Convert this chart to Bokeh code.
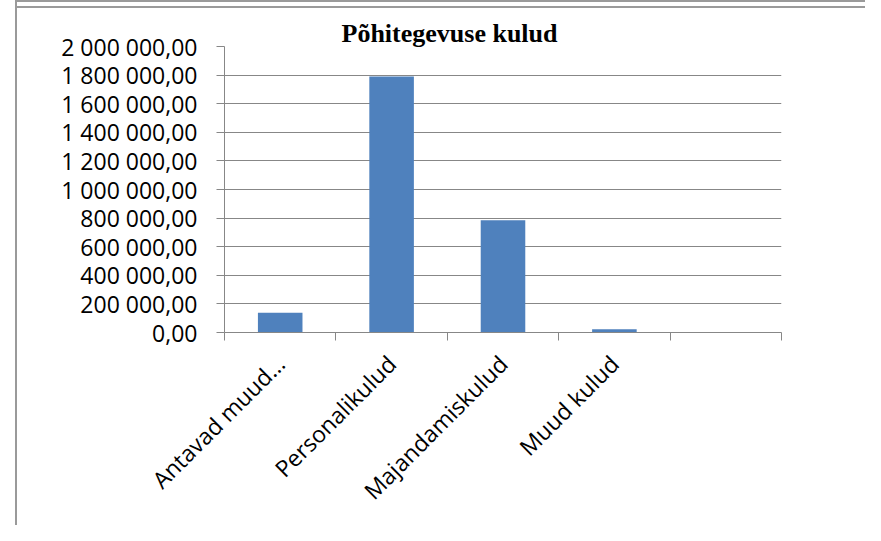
from bokeh.plotting import figure
from bokeh.models import Range1d, FixedTicker
from bokeh.embed import file_html
from bokeh.resources import INLINE
import math

# ---- data ----
categories = ["Antavad muud…", "Personalikulud", "Majandamiskulud", "Muud kulud", ""]
values = [138000, 1790000, 785000, 23000, 0]
y_ticks = [0, 200000, 400000, 600000, 800000, 1000000, 1200000,
           1400000, 1600000, 1800000, 2000000]
title_text = "Põhitegevuse kulud"


def fmt(v):
    return f"{v:,.2f}".replace(",", " ").replace(".", ",")


n = len(categories)
centers = [i + 0.5 for i in range(n)]
bounds = [float(i) for i in range(n + 1)]

GRID = "#878787"
FONT = "Open Sans"
FRAME = "#9a9a9a"

p = figure(width=865, height=525, x_range=Range1d(0, n), y_range=Range1d(0, y_ticks[-1]),
           output_backend="svg", toolbar_location=None,
           min_border_left=224, min_border_right=84, min_border_top=46, min_border_bottom=193)
p.background_fill_color = "white"
p.border_fill_color = None
p.outline_line_color = None
p.styles = {
    "background": (f"linear-gradient({FRAME},{FRAME}) 15px 0px / 2px 100% no-repeat, "
                   f"linear-gradient({FRAME},{FRAME}) 15px 0px / 100% 2px no-repeat, "
                   f"linear-gradient({FRAME},{FRAME}) 15px 6px / 100% 2px no-repeat, white"),
}

p.vbar(x=centers, top=values, width=0.4, fill_color="#4F81BD", line_color=None)

# x axis
xa = p.xaxis[0]
xa.ticker = FixedTicker(ticks=centers, minor_ticks=bounds)
xa.major_label_overrides = {c: lab for c, lab in zip(centers, categories)}
xa.major_tick_out = 0
xa.major_tick_in = 0
xa.major_tick_line_color = None
xa.minor_tick_out = 8
xa.minor_tick_in = 0
xa.minor_tick_line_color = GRID
xa.axis_line_color = GRID
xa.major_label_orientation = math.pi / 4
xa.major_label_standoff = 19
xa.major_label_text_font = FONT
xa.major_label_text_font_size = "23px"
xa.major_label_text_color = "black"

# y axis
ya = p.yaxis[0]
ya.ticker = FixedTicker(ticks=y_ticks)
ya.major_label_overrides = {v: fmt(v) for v in y_ticks}
ya.major_tick_out = 8
ya.major_tick_in = 0
ya.minor_tick_line_color = None
ya.major_tick_line_color = GRID
ya.axis_line_color = GRID
ya.major_label_standoff = 19
ya.major_label_text_font = FONT
ya.major_label_text_font_size = "23px"
ya.major_label_text_color = "black"

p.xgrid.visible = False
p.ygrid.ticker = FixedTicker(ticks=y_ticks)
p.ygrid.grid_line_color = GRID

# title
p.title.text = title_text
p.title.align = "left"
p.title.offset = 117
p.title.text_font = "Liberation Serif"
p.title.text_font_style = "bold"
p.title.text_font_size = "26px"
p.title.text_color = "black"
try:
    p.title.standoff = -3
except Exception:
    p.title.standoff = 0

open("out.html", "w").write(file_html(p, INLINE))
